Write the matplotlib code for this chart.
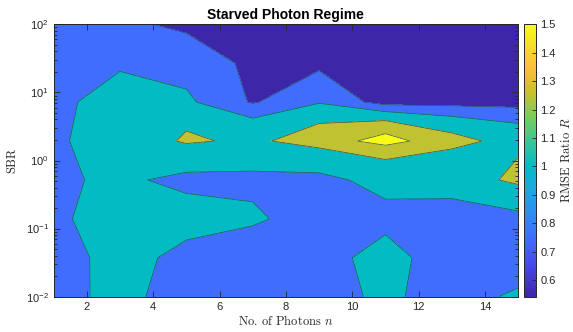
import numpy as np
import matplotlib
matplotlib.use("Agg")
import matplotlib.pyplot as plt
from matplotlib.colors import LinearSegmentedColormap, Normalize
from matplotlib.ticker import NullFormatter, LogLocator

plt.rcParams['font.family'] = ['Liberation Sans', 'DejaVu Sans']
plt.rcParams['mathtext.fontset'] = 'custom'
plt.rcParams['mathtext.rm'] = 'Liberation Sans'
plt.rcParams['mathtext.it'] = 'Liberation Sans:italic'

# grid the RMSE ratio was evaluated on
n_photons = [1, 3, 5, 7, 9, 11, 13, 15]
sbr = [0.01, 0.0373, 0.139, 0.518, 1.93, 7.20, 26.8, 100.0]

# RMSE ratio R, one row per SBR value (lowest SBR first)
rmse_ratio = [
    [0.922, 1.064, 0.900, 0.920, 0.958, 1.021, 0.950, 1.021],
    [0.976, 1.020, 0.985, 0.970, 0.980, 1.020, 0.970, 0.857],
    [0.968, 1.080, 1.035, 1.012, 0.964, 0.974, 0.955, 0.960],
    [0.978, 1.025, 0.965, 0.970, 0.960, 1.049, 1.080, 1.320],
    [0.984, 1.050, 1.285, 1.204, 1.365, 1.600, 1.330, 1.155],
    [0.954, 1.080, 1.050, 0.725, 0.980, 0.640, 0.640, 0.636],
    [0.900, 0.961, 0.805, 0.730, 0.650, 0.600, 0.600, 0.600],
    [0.850, 0.780, 0.720, 0.600, 0.600, 0.541, 0.580, 0.580],
]

contour_levels = [0.75, 1.0, 1.25, 1.5]
cbar_ticks = [0.6, 0.7, 0.8, 0.9, 1.0, 1.1, 1.2, 1.3, 1.4, 1.5]
x_ticks = [2, 4, 6, 8, 10, 12, 14]

# parula-like colormap (matlab default)
parula_pts = [
    (0.000, (0.2422, 0.1504, 0.6603)),
    (0.111, (0.2803, 0.2782, 0.9221)),
    (0.206, (0.2602, 0.4123, 0.9952)),
    (0.302, (0.1764, 0.5499, 0.9520)),
    (0.397, (0.1113, 0.6635, 0.8763)),
    (0.476, (0.0067, 0.7312, 0.7660)),
    (0.571, (0.2161, 0.7843, 0.5923)),
    (0.667, (0.5044, 0.7993, 0.3480)),
    (0.762, (0.8203, 0.7498, 0.1535)),
    (0.841, (0.9956, 0.7434, 0.2371)),
    (0.921, (0.9676, 0.8639, 0.1643)),
    (1.000, (0.9769, 0.9839, 0.0805)),
]
parula = LinearSegmentedColormap.from_list("parula", parula_pts)

Z = np.array(rmse_ratio)
X, Y = np.meshgrid(n_photons, sbr)
zmin, zmax = Z.min(), Z.max()
norm = Normalize(vmin=zmin, vmax=contour_levels[-1])

# matlab colours each filled band by its lower level
fill_levels = [zmin] + contour_levels + [zmax + 0.01]
fill_colors = [parula(norm(v)) for v in fill_levels[:-1]]

fig = plt.figure(figsize=(5.73, 3.32), dpi=100)
ax = fig.add_axes([53.5 / 573, 35.3 / 332, 464.8 / 573, 272.4 / 332])

ax.contourf(X, Y, Z, levels=fill_levels, colors=fill_colors)
ax.contour(X, Y, Z, levels=contour_levels, colors='#2f4f5c', linewidths=0.5)

ax.set_yscale('log')
ax.set_xlim(1, 15)
ax.set_ylim(0.01, 100)
ax.set_xticks(x_ticks)
ax.yaxis.set_major_locator(LogLocator(base=10, numticks=10))
ax.yaxis.set_minor_locator(LogLocator(base=10, subs=np.arange(2, 10), numticks=10))
ax.yaxis.set_minor_formatter(NullFormatter())

tick_col = '#262626'
ax.tick_params(which='both', direction='in', top=True, right=True,
               colors=tick_col, labelsize=8, width=0.6)
ax.tick_params(which='major', length=4)
ax.tick_params(which='minor', length=2)
for sp in ax.spines.values():
    sp.set_color(tick_col)
    sp.set_linewidth(0.7)
    sp.set_zorder(5)

ax.set_xlabel('No. of Photons $n$', fontfamily='cmr10', math_fontfamily='cm',
              fontsize=9, color=tick_col, labelpad=2)
ax.set_ylabel('SBR', fontfamily='cmr10', math_fontfamily='cm',
              fontsize=9, color=tick_col, labelpad=5)
ax.set_title('Starved Photon Regime', fontweight='bold', fontsize=10, pad=4)

cax = fig.add_axes([524.3 / 573, 35.3 / 332, 11.4 / 573, 272.4 / 332])
sm = plt.cm.ScalarMappable(norm=norm, cmap=parula)
cb = fig.colorbar(sm, cax=cax, ticks=cbar_ticks, format='%g')
cb.outline.set_edgecolor(tick_col)
cb.outline.set_linewidth(0.7)
cax.tick_params(direction='in', length=3, width=0.6, labelsize=8, colors=tick_col)
cb.set_label('RMSE Ratio $R$', fontfamily='cmr10', math_fontfamily='cm',
             fontsize=9, color=tick_col, labelpad=3)

fig.savefig('out.png', dpi=100)
